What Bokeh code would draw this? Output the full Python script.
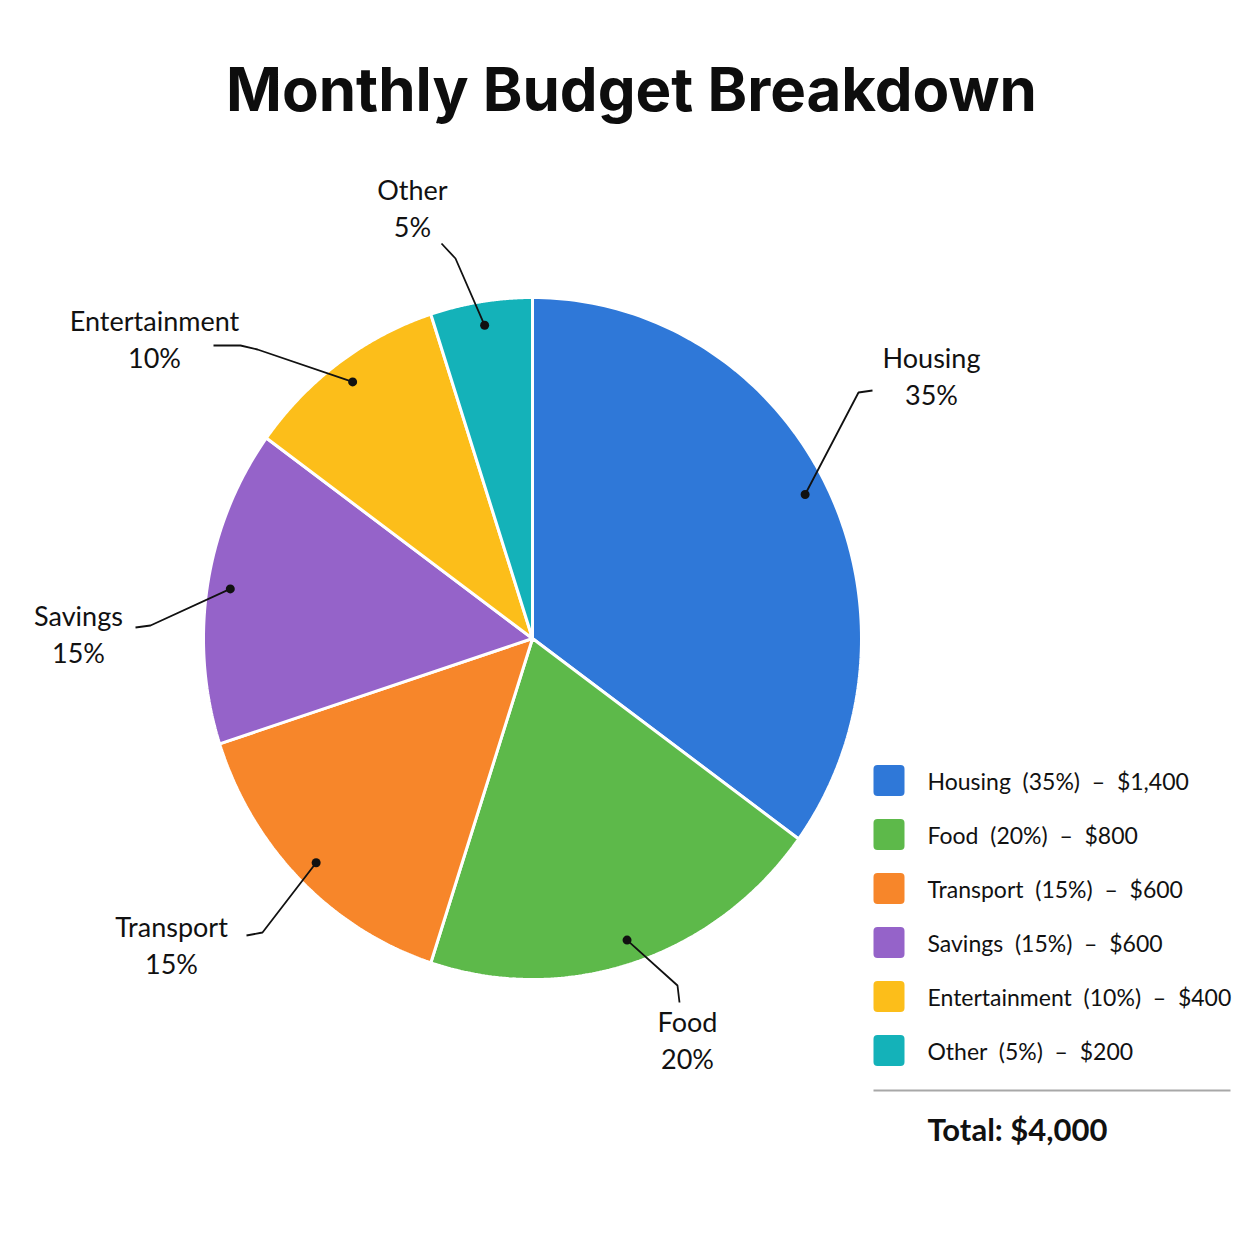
import numpy as np
from bokeh.plotting import figure
from bokeh.models import Range1d, ColumnDataSource
from bokeh.embed import file_html
from bokeh.resources import INLINE
from bokeh.core.properties import value

# ---------------- data ----------------
categories = ["Housing", "Food", "Transport", "Savings", "Entertainment", "Other"]
percents = [35, 20, 15, 15, 10, 5]
amounts = [1400, 800, 600, 600, 400, 200]
colors = ["#2F78D8", "#5DB94A", "#F7862A", "#9563C9", "#FCBE1A", "#14B2B9"]
title_text = "Monthly Budget Breakdown"

# ---------------- layout ----------------
W = H = 1238
CX, CY, RX, RY = 532, 638, 329, 341
DOT_FRAC = 0.93
# leader line bends (elbow points, end points) per category
leader_bends = {
    "Housing": [(858, 392), (872, 390)],
    "Food": [(677, 985), (679, 1002)],
    "Transport": [(262, 932), (246, 935)],
    "Savings": [(150, 625), (135, 627)],
    "Entertainment": [(257, 349), (240, 345), (213, 345)],
    "Other": [(455, 258), (441, 243)],
}
label_pos = {
    "Housing": (931, 357),
    "Food": (687, 1021),
    "Transport": (171, 926),
    "Savings": (78, 615),
    "Entertainment": (154, 320),
    "Other": (412, 189),
}
LABEL_GAP = 37
FONT = "Lato"

p = figure(width=W, height=H, x_range=Range1d(0, W), y_range=Range1d(H, 0),
           output_backend="svg", toolbar_location=None, min_border=0,
           x_axis_location=None, y_axis_location=None)
p.grid.visible = False
p.outline_line_color = None
p.background_fill_color = "white"
p.border_fill_color = "white"

# ---------------- pie ----------------
total = sum(amounts)
fracs = np.array(amounts) / total
ends = np.cumsum(fracs) * 2 * np.pi
starts = ends - fracs * 2 * np.pi
xs, ys = [], []
for s, e in zip(starts, ends):
    t = np.linspace(s, e, 120)
    xs.append([CX] + list(CX + RX * np.sin(t)) + [CX])
    ys.append([CY] + list(CY - RY * np.cos(t)) + [CY])
p.patches(xs, ys, fill_color=colors, line_color="white", line_width=3)

# ---------------- leader lines & dots ----------------
mids = (starts + ends) / 2
dot_x = CX + DOT_FRAC * RX * np.sin(mids)
dot_y = CY - DOT_FRAC * RY * np.cos(mids)
lx, ly = [], []
for c, dx, dy in zip(categories, dot_x, dot_y):
    pts = [(dx, dy)] + leader_bends[c]
    lx.append([q[0] for q in pts])
    ly.append([q[1] for q in pts])
p.multi_line(lx, ly, line_color="#111111", line_width=1.8)
p.scatter(dot_x, dot_y, size=9, fill_color="#111111", line_color=None)

# ---------------- slice labels ----------------
name_src = ColumnDataSource(dict(
    x=[label_pos[c][0] for c in categories],
    y=[label_pos[c][1] for c in categories],
    t=categories))
pct_src = ColumnDataSource(dict(
    x=[label_pos[c][0] for c in categories],
    y=[label_pos[c][1] + LABEL_GAP for c in categories],
    t=[f"{v}%" for v in percents]))
for src in (name_src, pct_src):
    p.text("x", "y", text="t", source=src, text_font=value(FONT), text_font_size="27px",
           text_align="center", text_baseline="middle", text_color="#111111")

# ---------------- title ----------------
p.text([631], [88], text=[title_text], text_font=value("Inter"), text_font_size="60px",
       text_font_style="bold", text_align="center", text_baseline="middle", text_color="#0d0d0d")

# ---------------- legend ----------------
LEG_X0, LEG_SW, LEG_Y0, LEG_DY = 873, 31, 780, 54
ly_c = [LEG_Y0 + i * LEG_DY for i in range(len(categories))]
p.quad(left=[LEG_X0] * len(categories), right=[LEG_X0 + LEG_SW] * len(categories),
       top=[y - LEG_SW / 2 for y in ly_c], bottom=[y + LEG_SW / 2 for y in ly_c],
       fill_color=colors, line_color=None, border_radius=4)
leg_text = [f"{c}\u00a0\u00a0({v}%)\u00a0\u00a0\u2013\u00a0\u00a0${a:,}" for c, v, a in zip(categories, percents, amounts)]
p.text([927] * len(categories), ly_c, text=leg_text, text_font=value(FONT), text_font_size="23px",
       text_align="left", text_baseline="middle", text_color="#111111")
p.line([873, 1230], [1090, 1090], line_color="#a8a8a8", line_width=2)
p.text([927], [1128], text=[f"Total: ${total:,}"], text_font=value(FONT), text_font_size="31px",
       text_font_style="bold", text_align="left", text_baseline="middle", text_color="#111111")

open("out.html", "w").write(file_html(p, INLINE))
